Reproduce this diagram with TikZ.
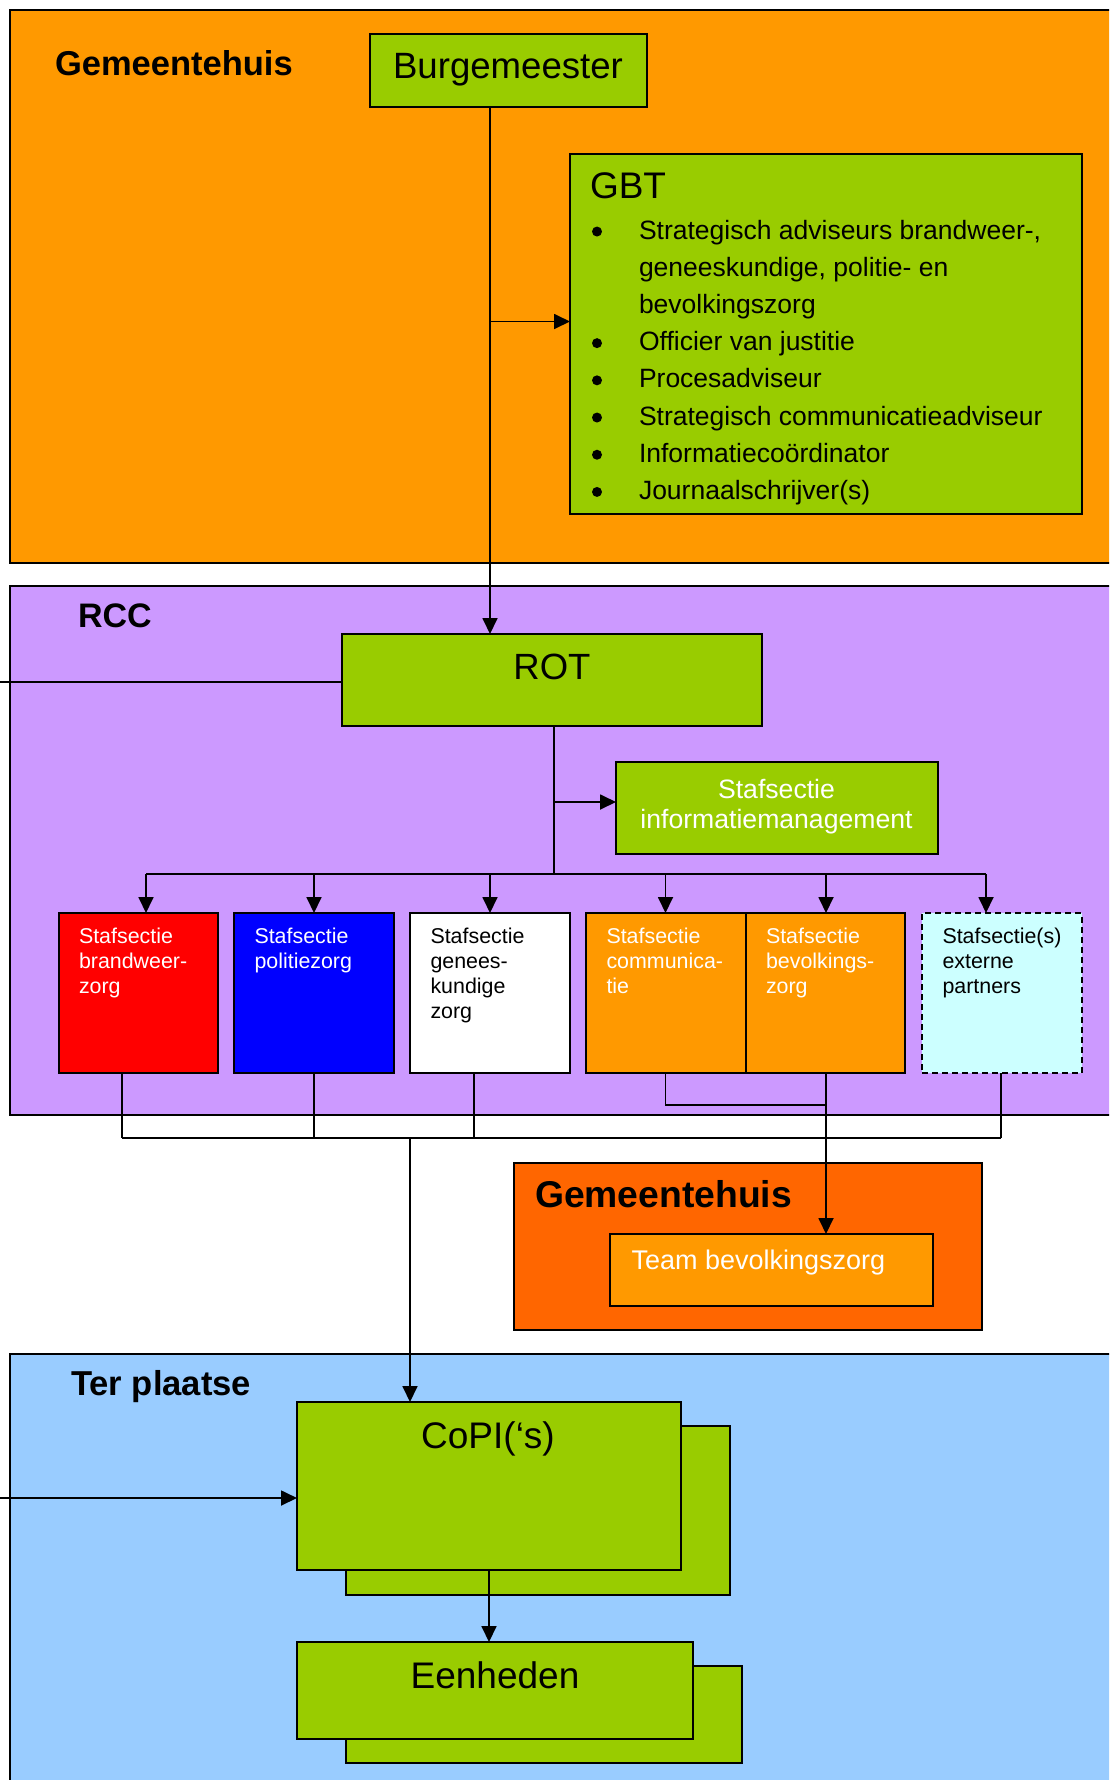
\documentclass[tikz,border=0pt]{standalone}
\usepackage{fontspec}
\setmainfont{Liberation Sans}
\usetikzlibrary{arrows.meta}
\definecolor{orA}{HTML}{FF9900}
\definecolor{orB}{HTML}{FF6600}
\definecolor{grA}{HTML}{99CC00}
\definecolor{puA}{HTML}{CC99FF}
\definecolor{blA}{HTML}{99CCFF}
\definecolor{cyA}{HTML}{CCFFFF}
\newcommand\fsz[2]{\fontsize{#1}{#2}\selectfont}
\newcommand\bul{\hspace*{1pt}\raisebox{2.5pt}{\tikz\fill[black] (0,0) circle (5pt);}}
\begin{document}
\begin{tikzpicture}[x=1pt,y=-1pt,
  cont/.style={draw, line width=2pt, inner sep=0pt, outer sep=0pt, anchor=north west},
  bx/.style={draw, line width=2pt, inner sep=0pt, outer sep=0pt, anchor=north west},
  conn/.style={line width=1.8pt, line join=miter},
  arr/.style={conn, -{Triangle[length=16pt,width=15pt]}},
  txt/.style={inner sep=0pt, outer sep=0pt},
  lbl/.style={txt, anchor=base west, font=\bfseries}
]
\useasboundingbox (0,0) rectangle (1109,1780);
\clip (0,0) rectangle (1109,1780);
\fill[white] (0,0) rectangle (1109,1780);

% containers
\node[cont, fill=orA, minimum width=1110pt, minimum height=552.5pt] (gh1) at (10,10) {};
\node[cont, fill=puA, minimum width=1110pt, minimum height=528.5pt] (rcc) at (10,586) {};
\node[cont, fill=orB, minimum width=468pt, minimum height=167.5pt] (gh2) at (514,1162.5) {};
\node[cont, fill=blA, minimum width=1110pt, minimum height=440pt] (tp) at (10,1354) {};

% labels
\node[lbl] (lgh1) at (55,75) {\fsz{34.5}{40}Gemeentehuis};
\node[lbl] (lrcc) at (78,627) {\fsz{34}{40}RCC};
\node[lbl] (lgh2) at (535,1207.5) {\fsz{37.3}{44}Gemeentehuis};
\node[lbl] (ltp) at (71,1395.5) {\fsz{34.6}{40}Ter plaatse};

% boxes
\node[bx, fill=grA, minimum width=277pt, minimum height=73pt] (burg) at (370,34) {};
\node[txt, anchor=base] (tburg) at (508,78) {\fsz{36.6}{44}Burgemeester};

\node[bx, fill=grA, minimum width=512pt, minimum height=360pt] (gbt) at (570,154) {};
\node[txt, anchor=base west] (tgbt) at (590,198) {\fsz{37}{44}GBT};
\node[txt, anchor=north west] (lgbt) at (591,213) {\fsz{26.5}{37.2}%
\begin{tabular}{@{}p{48pt}@{}l@{}}
\bul&Strategisch adviseurs brandweer-,\\
&geneeskundige, politie- en\\
&bevolkingszorg\\
\bul&Officier van justitie\\
\bul&Procesadviseur\\
\bul&Strategisch communicatieadviseur\\
\bul&Informatiecoördinator\\
\bul&Journaalschrijver(s)
\end{tabular}};

\node[bx, fill=grA, minimum width=420pt, minimum height=92pt] (rot) at (342,634) {};
\node[txt, anchor=base] (trot) at (552,679.5) {\fsz{36.5}{44}ROT};

\node[bx, fill=grA, minimum width=322pt, minimum height=92pt] (info) at (616,762) {};
\node[txt, anchor=north, text=white] (tinfo) at (776.5,777) {\fsz{26.6}{30}%
\begin{tabular}{@{}c@{}}Stafsectie\\informatiemanagement\end{tabular}};

\node[bx, fill=red, minimum width=159.5pt, minimum height=160pt] (red) at (58.5,913) {};
\node[bx, fill=blue, minimum width=159.5pt, minimum height=160pt] (blue) at (234,913) {};
\node[bx, fill=white, minimum width=160pt, minimum height=160pt] (white) at (410,913) {};
\node[bx, fill=orA, minimum width=159.5pt, minimum height=160pt] (or1) at (586,913) {};
\node[bx, fill=orA, minimum width=159.5pt, minimum height=160pt] (or2) at (745.5,913) {};
\node[bx, fill=cyA, minimum width=159.5pt, minimum height=160pt, dash pattern=on 6pt off 4pt] (cyan) at (922,913) {};

\node[txt, anchor=north west, text=white] (tred) at (79,925.5) {\fsz{21.4}{25}%
\begin{tabular}{@{}l@{}}Stafsectie\\brandweer-\\zorg\end{tabular}};
\node[txt, anchor=north west, text=white] (tblue) at (254.5,925.5) {\fsz{21.4}{25}%
\begin{tabular}{@{}l@{}}Stafsectie\\politiezorg\end{tabular}};
\node[txt, anchor=north west] (twhite) at (430.5,925.5) {\fsz{21.4}{25}%
\begin{tabular}{@{}l@{}}Stafsectie\\genees-\\kundige\\zorg\end{tabular}};
\node[txt, anchor=north west, text=white] (tor1) at (606.5,925.5) {\fsz{21.4}{25}%
\begin{tabular}{@{}l@{}}Stafsectie\\communica-\\tie\end{tabular}};
\node[txt, anchor=north west, text=white] (tor2) at (766,925.5) {\fsz{21.4}{25}%
\begin{tabular}{@{}l@{}}Stafsectie\\bevolkings-\\zorg\end{tabular}};
\node[txt, anchor=north west] (tcyan) at (942.5,925.5) {\fsz{21.4}{25}%
\begin{tabular}{@{}l@{}}Stafsectie(s)\\externe\\partners\end{tabular}};

\node[bx, fill=orA, minimum width=323pt, minimum height=72pt] (team) at (610,1234) {};
\node[txt, anchor=base west, text=white] (tteam) at (631.5,1269) {\fsz{27}{32}Team bevolkingszorg};

\node[bx, fill=grA, minimum width=384pt, minimum height=168.5pt] (copib) at (346,1426) {};
\node[bx, fill=grA, minimum width=384pt, minimum height=168pt] (copi) at (297,1402) {};
\node[txt, anchor=base] (tcopi) at (488,1448) {\fsz{37}{44}CoPI(‘s)};

\node[bx, fill=grA, minimum width=396pt, minimum height=97pt] (eenb) at (346,1666) {};
\node[bx, fill=grA, minimum width=396pt, minimum height=97pt] (een) at (297,1642) {};
\node[txt, anchor=base] (teen) at (495,1688) {\fsz{37}{44}Eenheden};

% connectors
\coordinate (vx) at (490,0);
\draw[arr] (burg.south -| vx) -- (rot.north -| vx);
\coordinate (gb) at (490,321.5);
\draw[arr] (gb) -- (gb -| gbt.west);
\coordinate (lr) at (-5,682);
\draw[conn] (rot.west |- lr) -- (lr);
\coordinate (busL) at (146,874);
\coordinate (busR) at (986,874);
\coordinate (rx) at (554,874);
\draw[conn] (rot.south -| rx) -- (rx);
\coordinate (ia) at (554,802);
\draw[arr] (ia) -- (ia -| info.west);
\draw[conn] (busL) -- (busR);
\foreach \n/\x in {red/146, blue/314, white/490, or1/665.5, or2/826, cyan/986}{
  \coordinate (a\n) at (\x,874);
  \draw[arr] (a\n) -- (a\n |- \n.north);
}
\foreach \n/\x in {red/122, blue/314, white/474, cyan/1001}{
  \coordinate (b\n) at (\x,1138);
  \draw[conn] (b\n |- \n.south) -- (b\n);
}
\draw[conn] (bred) -- (bcyan);
\coordinate (cx) at (410,1138);
\draw[arr] (cx) -- (cx |- copi.north);
\coordinate (o1) at (665.5,1104.7);
\coordinate (ox) at (826,1104.7);
\draw[conn] (o1 |- or1.south) -- (o1) -- (ox);
\draw[arr] (ox |- or2.south) -- (ox |- team.north);
\coordinate (ca) at (-5,1498);
\draw[arr] (ca) -- (ca -| copi.west);
\coordinate (ex) at (489,0);
\draw[arr] (copi.south -| ex) -- (een.north -| ex);
\end{tikzpicture}
\end{document}
